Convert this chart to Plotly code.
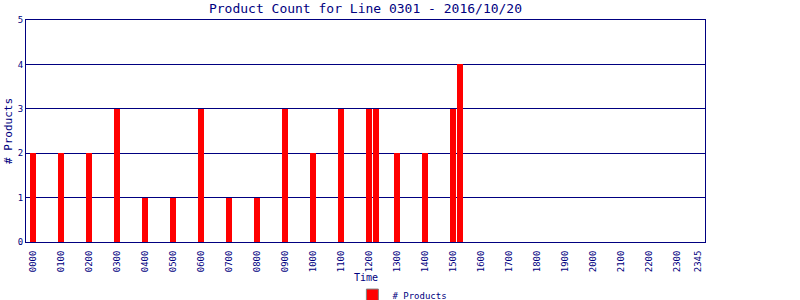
import plotly.graph_objects as go

# Data
times = ["0000", "0100", "0200", "0300", "0400", "0500", "0600", "0700", "0800",
         "0900", "1000", "1100", "1200", "1215", "1300", "1400", "1500", "1515"]
counts = [2, 2, 2, 3, 1, 1, 3, 1, 1, 3, 2, 3, 3, 3, 2, 2, 3, 4]
tick_labels = ["%02d00" % h for h in range(24)] + ["2345"]

def slot(t):
    return int(t[:2]) * 4 + int(t[2:]) // 15

x_slots = [slot(t) for t in times]
tick_slots = [slot(t) for t in tick_labels]

NAVY = "#000080"
FONT = "DejaVu Sans Mono"

fig = go.Figure()
fig.add_trace(go.Bar(x=x_slots, y=counts, width=0.85, marker=dict(color="#ff0000", line=dict(width=0)),
                     name="# Products", showlegend=False))
fig.add_trace(go.Bar(x=[None], y=[None], name="# Products",
                     marker=dict(color="#ff0000", line=dict(color="#808080", width=1))))

fig.update_layout(
    width=800, height=300,
    margin=dict(l=26, r=95, t=20, b=58, autoexpand=False),
    paper_bgcolor="white", plot_bgcolor="white",
    font=dict(family=FONT, color=NAVY, size=9),
    title=dict(text="Product Count for Line 0301 - 2016/10/20", x=0.5, xref="paper",
               xanchor="center", y=0.972, yref="container", yanchor="middle",
               font=dict(size=13, color=NAVY, family=FONT)),
    bargap=0,
    showlegend=True,
    legend=dict(orientation="h", xref="container", yref="paper", x=0.503, xanchor="center",
                y=-0.239, yanchor="middle", font=dict(size=9, color=NAVY, family=FONT),
                itemwidth=30, bgcolor="rgba(0,0,0,0)"),
    annotations=[dict(text="Time", xref="paper", yref="paper", x=0.5, y=-0.158,
                      xanchor="center", yanchor="middle", showarrow=False,
                      font=dict(size=10, color=NAVY, family=FONT))],
)
fig.update_xaxes(range=[-1, 96], tickmode="array", tickvals=tick_slots, ticktext=tick_labels,
                 tickangle=-90, showgrid=False, showline=True, linecolor=NAVY, linewidth=1,
                 mirror=True, ticks="", zeroline=False, tickfont=dict(size=9, color=NAVY),
                 automargin=False, ticklabelstandoff=4)
fig.update_yaxes(range=[0, 5], dtick=1, showgrid=True, gridcolor=NAVY, gridwidth=1,
                 showline=True, linecolor=NAVY, linewidth=1, mirror=True, ticks="",
                 zeroline=False, tickfont=dict(size=9, color=NAVY), automargin=False,
                 title=dict(text="# Products", font=dict(size=11, color=NAVY), standoff=2))

fig.write_html("out.html")
